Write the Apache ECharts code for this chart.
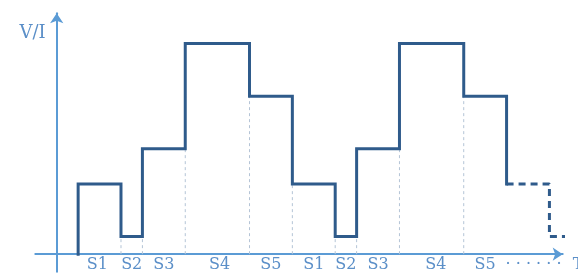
<!DOCTYPE html>
<html>
<head>
<meta charset="utf-8">
<script src="https://cdn.jsdelivr.net/npm/echarts@6/dist/echarts.min.js"></script>
<style>
  html, body { margin: 0; padding: 0; background: #fff; }
  #main { width: 578px; height: 276px; }
</style>
</head>
<body>
<div id="main"></div>
<script>
// step boundaries on the time axis, and the level held between each pair
var stepTimes = [1, 3, 4, 6, 9, 11, 13, 14, 16, 19, 21];
var stepLevels = [2, 0.5, 3, 6, 4.5, 2, 0.5, 3, 6, 4.5];
// the dashed continuation after the last solid step
var tailTimes = [21, 23, 23.96];
var tailLevels = [2, 0.5];
// dashed guide lines drop from these boundaries to the axis
var guideTimes = [3, 4, 6, 9, 11, 13, 14, 16, 19];
// stage labels under the axis
var labelTimes = [1.9, 3.5, 5, 7.6, 10, 12, 13.5, 15, 17.7, 20, 22.26];
var labelTexts = ['S1', 'S2', 'S3', 'S4', 'S5', 'S1', 'S2', 'S3', 'S4', 'S5', '· · · · · ·'];

var axisColor = '#5b9bd5';
var lineColor = '#2f5b8b';
var textColor = '#5b8fc8';
var font = 'DejaVu Serif';

// level at time t (used for guide heights)
function levelAt(t, side) {
  for (var i = 0; i < stepLevels.length; i++) {
    if (side < 0 && stepTimes[i + 1] === t) return stepLevels[i];
    if (side > 0 && stepTimes[i] === t) return stepLevels[i];
  }
  return 0;
}

// step:'start' draws vertical first, then horizontal
var solidData = [[stepTimes[0], 0]];
for (var i = 0; i < stepLevels.length; i++) {
  solidData.push([stepTimes[i + 1], stepLevels[i]]);
}
solidData.push([stepTimes[stepTimes.length - 1], tailLevels[0]]);

var tailData = [[tailTimes[0], tailLevels[0]]];
for (var j = 0; j < tailLevels.length; j++) {
  tailData.push([tailTimes[j + 1], tailLevels[j]]);
}

var guideData = [];
guideTimes.forEach(function (t) {
  var low = Math.min(levelAt(t, -1), levelAt(t, 1));
  guideData.push([t, 0], [t, low], [t, '-']);
});

var chart = echarts.init(document.getElementById('main'));
chart.setOption({
  animation: false,
  grid: { left: 35.3, right: 15.3, top: 13.3, bottom: 4.3, outerBoundsMode: 'none', containLabel: false },
  xAxis: {
    type: 'value',
    min: -1,
    max: 23.62,
    name: 'T',
    nameLocation: 'end',
    nameGap: 10,
    nameTextStyle: {
      color: textColor, fontFamily: font, fontSize: 16,
      align: 'left', verticalAlign: 'top', padding: [3, 0, 0, 0]
    },
    axisLine: {
      onZero: true,
      symbol: ['none', 'arrow'],
      symbolSize: [10, 10],
      lineStyle: { color: axisColor, width: 2 }
    },
    axisTick: { show: false },
    splitLine: { show: false },
    axisLabel: {
      customValues: labelTimes,
      margin: -15,
      color: textColor,
      fontFamily: font,
      fontSize: 16,
      formatter: function (v) {
        var k = labelTimes.indexOf(v);
        return k >= 0 ? labelTexts[k] : '';
      }
    }
  },
  yAxis: {
    type: 'value',
    min: -0.5,
    max: 6.86,
    name: 'V/I',
    nameLocation: 'end',
    nameGap: -20,
    nameTextStyle: {
      color: textColor, fontFamily: font, fontSize: 18,
      align: 'right', verticalAlign: 'middle', padding: [0, 11, 0, 0]
    },
    axisLine: {
      onZero: true,
      symbol: ['none', 'arrow'],
      symbolSize: [10, 10],
      lineStyle: { color: axisColor, width: 2 }
    },
    axisTick: { show: false },
    axisLabel: { show: false },
    splitLine: { show: false }
  },
  series: [
    {
      type: 'line',
      data: guideData,
      symbol: 'none',
      connectNulls: false,
      silent: true,
      lineStyle: { color: '#b4c4d6', width: 1, type: [3, 3] },
      z: 1
    },
    {
      type: 'line',
      data: solidData,
      step: 'start',
      symbol: 'none',
      lineStyle: { color: lineColor, width: 3, join: 'miter', cap: 'square' },
      z: 3
    },
    {
      type: 'line',
      data: tailData,
      step: 'start',
      symbol: 'none',
      clip: false,
      lineStyle: { color: lineColor, width: 3, type: [7, 5] },
      z: 3
    }
  ]
});
</script>
</body>
</html>
